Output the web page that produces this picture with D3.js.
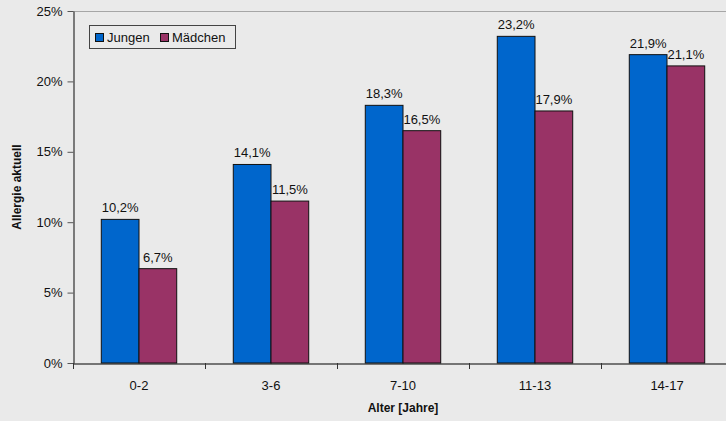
<!DOCTYPE html>
<html><head><meta charset="utf-8">
<script src="https://cdn.jsdelivr.net/npm/d3@7"></script>
<style>
html,body{margin:0;padding:0;background:#eaeaea;overflow:hidden;}
svg{display:block;font-family:Arial,"Liberation Sans",sans-serif;}
</style></head>
<body>
<svg id="chart" width="726" height="421"></svg>
<script>
const categories = ["0-2","3-6","7-10","11-13","14-17"];
const seriesNames = ["Jungen","Mädchen"];
const jungen = [10.2,14.1,18.3,23.2,21.9];
const maedchen = [6.7,11.5,16.5,17.9,21.1];
const yTicks = [0,5,10,15,20,25];
const colors = ["#0066cc","#993366"];

(function(){
const svg = d3.select("#chart");
const mLeft = 73, mTop = 11, mBottom = 363, plotW = 660;
const x = d3.scaleBand().domain(categories).range([mLeft,mLeft+plotW]).paddingInner(0).paddingOuter(0);
const bw = x.bandwidth()/3.5;
const y = d3.scaleLinear().domain([0,25]).range([mBottom,mTop]);
const fmt = v => d3.format(".1f")(v).replace(".",",")+"%";

svg.append("rect").attr("width",726).attr("height",421).attr("fill","#eaeaea");
svg.append("line").attr("x1",mLeft).attr("x2",mLeft+plotW).attr("y1",mTop+0.5).attr("y2",mTop+0.5).attr("stroke","#a6a6a6");
svg.append("line").attr("x1",mLeft+plotW-0.5).attr("x2",mLeft+plotW-0.5).attr("y1",mTop).attr("y2",mBottom).attr("stroke","#a6a6a6");

const yAxis = svg.append("g").attr("transform",`translate(${mLeft+0.5},0)`)
  .call(d3.axisLeft(y).tickValues(yTicks).tickFormat(d=>d+"%").tickSize(6).tickSizeOuter(0));
yAxis.select(".domain").attr("stroke","#555").attr("stroke-width",1.5);
yAxis.selectAll(".tick line").attr("stroke","#555");
yAxis.selectAll(".tick text").attr("font-size",13).attr("fill","#111").attr("x",-11).attr("font-family","Arial, 'Liberation Sans', sans-serif");

const series = [jungen, maedchen];
series.forEach((vals,si)=>{
  svg.append("g").selectAll("rect").data(vals).join("rect")
    .attr("x",(d,i)=>x(categories[i])+bw*0.75+si*bw)
    .attr("y",d=>y(d))
    .attr("width",bw)
    .attr("height",d=>mBottom-y(d))
    .attr("fill",colors[si]).attr("stroke","#111").attr("stroke-width",1);
  svg.append("g").selectAll("text").data(vals).join("text")
    .attr("x",(d,i)=>x(categories[i])+bw*0.75+si*bw+bw/2)
    .attr("y",d=>y(d)-7)
    .attr("text-anchor","middle").attr("font-size",13).attr("fill","#111")
    .text(d=>fmt(d));
});

const xAxis = svg.append("g").attr("transform",`translate(0,${mBottom+0.5})`)
  .call(d3.axisBottom(x).tickSize(0).tickSizeOuter(0));
xAxis.select(".domain").attr("stroke","#000").attr("stroke-width",1.2);
xAxis.selectAll(".tick text").attr("font-size",13).attr("fill","#111").attr("dy",0).attr("y",26).attr("font-family","Arial, 'Liberation Sans', sans-serif");
const bounds = categories.map(c=>x(c));
svg.append("g").selectAll("line").data(bounds).join("line")
  .attr("x1",d=>Math.round(d)+0.5).attr("x2",d=>Math.round(d)+0.5)
  .attr("y1",mBottom).attr("y2",mBottom+6).attr("stroke","#333");

svg.append("text").attr("x",mLeft+plotW/2).attr("y",412).attr("text-anchor","middle")
  .attr("font-size",12).attr("font-weight","bold").attr("fill","#111").text("Alter [Jahre]");
svg.append("text").attr("transform",`translate(21,${(mTop+mBottom)/2}) rotate(-90)`).attr("text-anchor","middle")
  .attr("font-size",12).attr("font-weight","bold").attr("fill","#111").text("Allergie aktuell");

const lg = svg.append("g");
lg.append("rect").attr("x",89.5).attr("y",25.5).attr("width",146).attr("height",23)
  .attr("fill","#eaeaea").attr("stroke","#444");
const legX = [95,160];
seriesNames.forEach((n,i)=>{
  lg.append("rect").attr("x",legX[i]+0.5).attr("y",33.5).attr("width",8).attr("height",8)
    .attr("fill",colors[i]).attr("stroke","#111");
  lg.append("text").attr("x",legX[i]+12).attr("y",42).attr("font-size",13).attr("fill","#111").text(n);
});
})();
</script>
</body></html>
